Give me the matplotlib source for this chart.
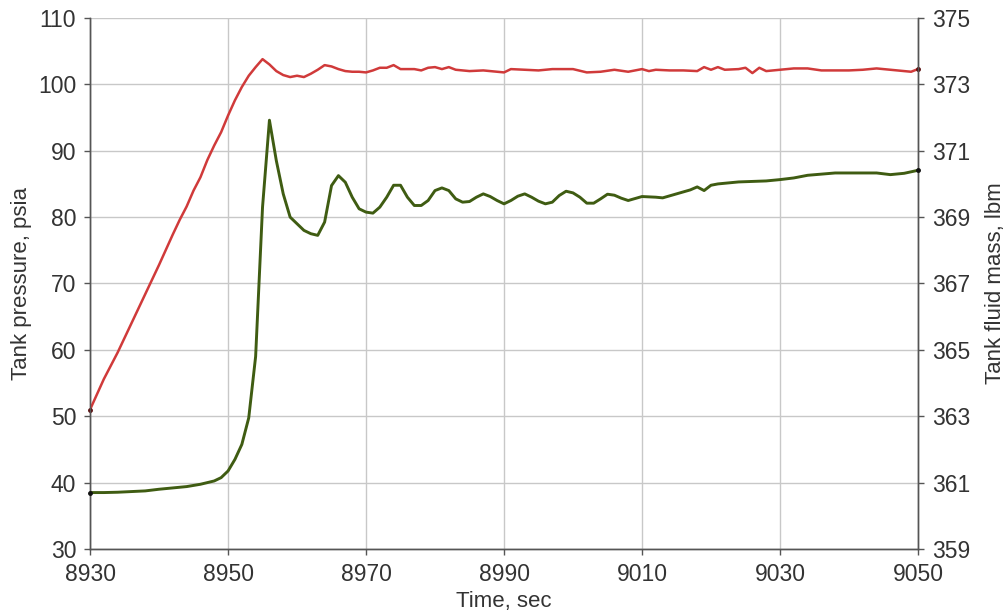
import matplotlib.pyplot as plt

plt.rcParams['font.family'] = ['Liberation Sans', 'DejaVu Sans']

# tank pressure, psia (left axis)
p_time = [8930, 8932, 8934, 8936, 8938, 8940, 8942, 8943, 8944, 8945, 8946, 8947,
          8948, 8949, 8950, 8951, 8952, 8953, 8954, 8955, 8956, 8957, 8958, 8959,
          8960, 8961, 8962, 8963, 8964, 8965, 8966, 8967, 8968, 8969, 8970, 8971,
          8972, 8973, 8974, 8975, 8976, 8977, 8978, 8979, 8980, 8981, 8982, 8983,
          8985, 8987, 8988, 8990, 8991, 8993, 8995, 8997, 8999, 9000, 9002, 9004,
          9006, 9008, 9010, 9011, 9012, 9014, 9016, 9018, 9019, 9020, 9021, 9022,
          9024, 9025, 9026, 9027, 9028, 9030, 9032, 9034, 9036, 9038, 9040, 9042,
          9044, 9046, 9048, 9049, 9050]
pressure = [51.0, 55.6, 59.6, 64.0, 68.4, 72.8, 77.4, 79.6, 81.6, 84.0, 86.0, 88.6,
            90.8, 92.8, 95.3, 97.6, 99.6, 101.3, 102.6, 103.8, 103.0, 102.0, 101.4, 101.1,
            101.3, 101.1, 101.6, 102.2, 102.9, 102.7, 102.3, 102.0, 101.9, 101.9, 101.8, 102.1,
            102.5, 102.5, 102.9, 102.3, 102.3, 102.3, 102.1, 102.5, 102.6, 102.3, 102.6, 102.2,
            102.0, 102.1, 102.0, 101.8, 102.3, 102.2, 102.1, 102.3, 102.3, 102.3, 101.8, 101.9,
            102.2, 101.9, 102.3, 102.0, 102.2, 102.1, 102.1, 102.0, 102.6, 102.2, 102.6, 102.2,
            102.3, 102.5, 101.7, 102.5, 102.0, 102.2, 102.4, 102.4, 102.1, 102.1, 102.1, 102.2,
            102.4, 102.2, 102.0, 101.9, 102.3]

# tank fluid mass, lbm (right axis)
m_time = [8930, 8932, 8934, 8936, 8938, 8940, 8942, 8944, 8946, 8947, 8948, 8949,
          8950, 8951, 8952, 8953, 8954, 8955, 8956, 8957, 8958, 8959, 8960, 8961,
          8962, 8963, 8964, 8965, 8966, 8967, 8968, 8969, 8970, 8971, 8972, 8973,
          8974, 8975, 8976, 8977, 8978, 8979, 8980, 8981, 8982, 8983, 8984, 8985,
          8986, 8987, 8988, 8989, 8990, 8991, 8992, 8993, 8994, 8995, 8996, 8997,
          8998, 8999, 9000, 9001, 9002, 9003, 9004, 9005, 9006, 9007, 9008, 9009,
          9010, 9012, 9013, 9015, 9017, 9018, 9019, 9020, 9021, 9024, 9028, 9030,
          9032, 9034, 9038, 9044, 9046, 9048, 9050]
mass = [360.70, 360.70, 360.71, 360.73, 360.75, 360.80, 360.84, 360.88, 360.95, 361.00, 361.05, 361.15,
        361.35, 361.70, 362.15, 362.95, 364.80, 369.30, 371.92, 370.70, 369.70, 369.00, 368.80, 368.60,
        368.50, 368.45, 368.85, 369.95, 370.25, 370.05, 369.60, 369.25, 369.15, 369.12, 369.30, 369.60,
        369.96, 369.96, 369.60, 369.35, 369.35, 369.50, 369.80, 369.88, 369.80, 369.55, 369.45, 369.47,
        369.60, 369.70, 369.62, 369.50, 369.40, 369.50, 369.63, 369.70, 369.60, 369.48, 369.40, 369.45,
        369.65, 369.78, 369.73, 369.60, 369.42, 369.42, 369.55, 369.69, 369.66, 369.57, 369.50, 369.56,
        369.62, 369.60, 369.58, 369.70, 369.82, 369.91, 369.80, 369.96, 370.00, 370.06, 370.09, 370.13,
        370.18, 370.26, 370.33, 370.33, 370.28, 370.32, 370.41]

x_ticks = [8930, 8950, 8970, 8990, 9010, 9030, 9050]
p_ticks = [30, 40, 50, 60, 70, 80, 90, 100, 110]
m_ticks = [359, 361, 363, 365, 367, 369, 371, 373, 375]

axis_col = '#555555'
text_col = '#333333'

fig = plt.figure(figsize=(10.05, 6.16), dpi=100)
ax = fig.add_axes([0.0896, 0.1088, 0.8238, 0.862])
ax2 = ax.twinx()

ax.set_xlim(8930, 9050)
ax.set_ylim(30, 110)
ax2.set_ylim(359, 375)
ax.set_xticks(x_ticks)
ax.set_yticks(p_ticks)
ax2.set_yticks(m_ticks)

ax.grid(True, color='#c8c8c8', linewidth=1.0)
ax.set_axisbelow(True)

ax.plot(p_time, pressure, color='#d03a3a', linewidth=1.8, zorder=3)
ax2.plot(m_time, mass, color='#3f5c12', linewidth=2.1, zorder=3)
ax.plot([p_time[0], p_time[-1]], [pressure[0], pressure[-1]], 'o', color='#5a1010',
        markersize=2.5, zorder=4, clip_on=False)
ax2.plot([m_time[0], m_time[-1]], [mass[0], mass[-1]], 'o', color='#111111',
         markersize=2.5, zorder=4, clip_on=False)

for a in (ax, ax2):
    a.spines['top'].set_visible(False)
    for s in ('left', 'right', 'bottom'):
        a.spines[s].set_color(axis_col)
        a.spines[s].set_linewidth(1.0)
    a.tick_params(direction='out', length=4, width=1, color=axis_col,
                  labelcolor=text_col, labelsize=16.5, pad=6)

ax.set_xlabel('Time, sec', fontsize=16, color=text_col)
ax.set_ylabel('Tank pressure, psia', fontsize=16, color=text_col)
ax2.set_ylabel('Tank fluid mass, lbm', fontsize=16, color=text_col)
ax.xaxis.set_label_coords(0.5, -0.08)
ax.yaxis.set_label_coords(-0.070, 0.5)
ax2.yaxis.set_label_coords(1.081, 0.5)

fig.savefig('out.png', dpi=100, facecolor='white')
